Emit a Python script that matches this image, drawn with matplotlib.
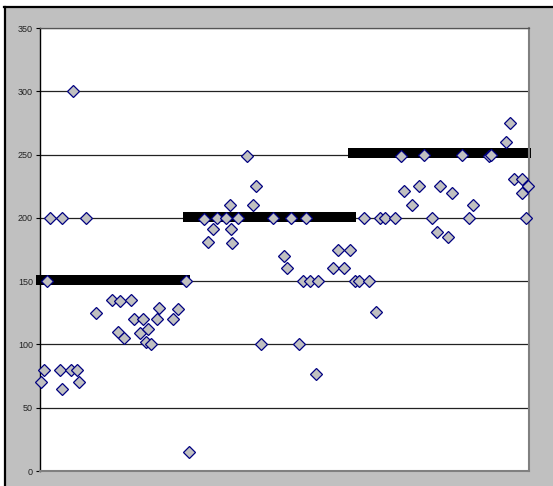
import matplotlib
matplotlib.use("Agg")
import matplotlib.pyplot as plt
from matplotlib.patches import Rectangle

# Data (x positions in arbitrary 0-100 units, y values)
x_vals = [0.2, 0.8, 1.5, 2.0, 4.1, 4.4, 4.6, 6.3, 6.8, 7.5, 7.9, 9.4, 11.5, 14.7,
          16.0, 16.3, 17.2, 18.6, 19.2, 20.4, 21.1, 21.7, 22.1, 22.8, 23.9, 24.4,
          27.1, 28.2, 29.8, 30.5,
          33.5, 34.3, 35.3, 36.2, 38.1, 38.9, 39.1, 39.3, 40.4, 42.3, 43.6, 44.2,
          45.2, 47.7, 49.8, 50.5, 51.3, 53.0, 53.8, 54.3, 55.2, 56.4, 56.9, 60.0,
          60.9, 62.2, 63.3, 64.4, 65.2,
          66.3, 67.3, 68.7, 69.5, 70.6, 72.6, 73.8, 74.5, 76.1, 77.6, 78.6, 80.1,
          81.1, 81.9, 83.5, 84.2, 86.2, 87.7, 88.5, 91.9, 92.2, 95.3, 96.1, 97.0,
          98.5, 98.6, 99.4, 99.7]
y_vals = [70, 80, 150, 200, 80, 200, 65, 80, 300, 80, 70, 200, 125, 135,
          110, 134, 105, 135, 120, 109, 120, 102, 112, 100, 120, 129,
          120, 128, 150, 15,
          199, 181, 191, 200, 200, 210, 191, 180, 200, 249, 210, 225,
          100, 200, 170, 160, 200, 100, 150, 200, 150, 77, 150, 160,
          175, 160, 175, 150, 150,
          200, 150, 126, 200, 200, 200, 249, 221, 210, 225, 250, 200,
          189, 225, 185, 220, 250, 200, 210, 249, 250, 260, 275, 231,
          231, 220, 200, 225]

# Mean bars
bar_start = [-0.8, 29.2, 63.0]
bar_end = [30.7, 64.6, 100.4]
bar_level = [151, 201, 251]

y_ticks = [0, 50, 100, 150, 200, 250, 300, 350]

plt.rcParams['font.family'] = ['Liberation Sans', 'DejaVu Sans']

W, H = 553, 486
fig = plt.figure(figsize=(W / 100, H / 100), dpi=100)
fig.patch.set_facecolor('white')

# Chart area (gray) with black border on top/left
bg = fig.add_axes([0, 0, 1, 1], zorder=-5)
bg.set_xlim(0, W)
bg.set_ylim(H, 0)
bg.axis('off')
bg.add_patch(Rectangle((4, 6), W, H, facecolor='#C0C0C0', edgecolor='none'))
bg.plot([4, W], [7, 7], color='black', lw=1.6)
bg.plot([5, 5], [7, H], color='black', lw=1.6)

ax = fig.add_axes([40 / W, (H - 471) / H, (529 - 40) / W, (471 - 28) / H], zorder=1)
ax.set_facecolor('white')
ax.set_xlim(0, 100)
ax.set_ylim(0, 350)

for yv in y_ticks[1:]:
    ax.axhline(yv, color='#222222', lw=0.9, zorder=1)

for xs, xe, lv in zip(bar_start, bar_end, bar_level):
    ax.plot([xs, xe], [lv, lv], color='black', lw=7.2, solid_capstyle='butt',
            zorder=2, clip_on=False)

ax.plot(x_vals, y_vals, linestyle='none', marker='D', markersize=6.6,
        markerfacecolor='#C0C0C0', markeredgecolor='#000080', markeredgewidth=0.9,
        zorder=3, clip_on=False)

ax.set_yticks(y_ticks)
ax.set_yticklabels([str(t) for t in y_ticks], fontsize=6.5, color='#222222')
ax.tick_params(axis='y', direction='out', length=3, width=0.8, color='black', pad=2)
ax.set_xticks([])

ax.spines['left'].set_color('black')
ax.spines['left'].set_linewidth(1.0)
ax.spines['bottom'].set_color('#808080')
ax.spines['bottom'].set_linewidth(1.5)
ax.spines['right'].set_color('#808080')
ax.spines['right'].set_linewidth(1.5)
ax.spines['top'].set_color('#555555')
ax.spines['top'].set_linewidth(0.9)

fig.savefig('out.png', dpi=100)
